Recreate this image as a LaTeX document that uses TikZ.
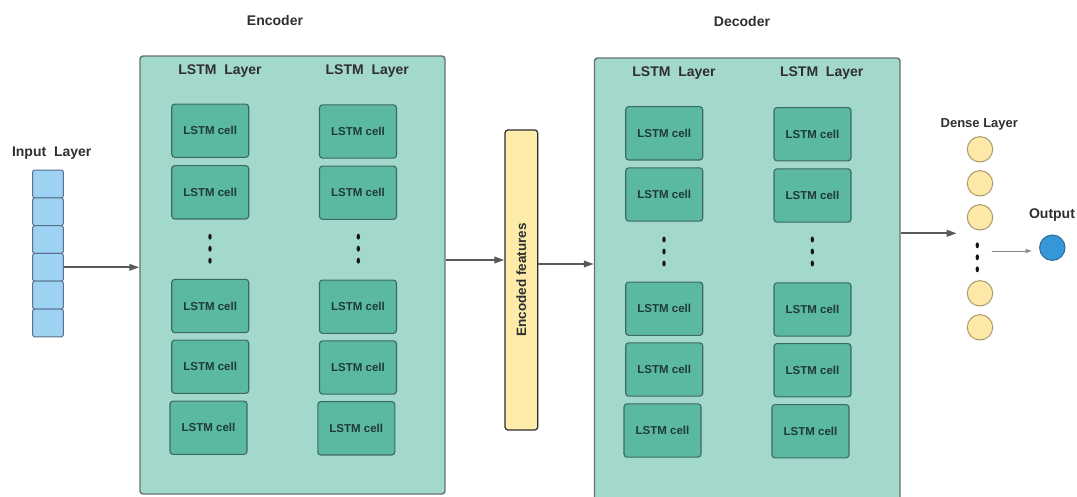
\documentclass[tikz,border=0pt]{standalone}
\usepackage{fontspec}
\setmainfont{Liberation Sans}
\usetikzlibrary{arrows.meta}

\definecolor{panelfill}{HTML}{A3D8CD}
\definecolor{panelline}{HTML}{62746F}
\definecolor{cellfill}{HTML}{5BB8A2}
\definecolor{cellline}{HTML}{3D6A5F}
\definecolor{celltext}{HTML}{1F3B35}
\definecolor{titletext}{HTML}{2F2F2F}
\definecolor{featfill}{HTML}{FDEBA9}
\definecolor{featline}{HTML}{2B2B2B}
\definecolor{inputfill}{HTML}{9ED2F2}
\definecolor{inputline}{HTML}{58708A}
\definecolor{densefill}{HTML}{FDE8A7}
\definecolor{denseline}{HTML}{A89A6C}
\definecolor{outfill}{HTML}{3597D8}
\definecolor{outline}{HTML}{2C6A96}
\definecolor{arrowgray}{HTML}{595959}
\definecolor{thingray}{HTML}{8A8A8A}
\definecolor{dotcol}{HTML}{151515}

\begin{document}
\begin{tikzpicture}[x=1pt,y=-1pt,
  panel/.style={draw=panelline, fill=panelfill, line width=1.4pt,
    rounded corners=3pt, inner sep=0pt},
  cell/.style={draw=cellline, fill=cellfill, line width=1.1pt,
    rounded corners=3pt, minimum width=77pt, minimum height=53.3pt,
    inner sep=0pt, text=celltext,
    font=\fontsize{11.5}{13}\selectfont\bfseries},
  ttl/.style={text=titletext, inner sep=0pt,
    font=\fontsize{14}{16}\selectfont\bfseries},
  inbox/.style={draw=inputline, fill=inputfill, line width=1pt,
    rounded corners=2pt, minimum width=30.6pt, minimum height=27.8pt,
    inner sep=0pt},
  neuron/.style={circle, draw=denseline, fill=densefill, line width=1pt,
    minimum size=25.4pt, inner sep=0pt},
  outneuron/.style={circle, draw=outline, fill=outfill, line width=1pt,
    minimum size=25.4pt, inner sep=0pt},
  featbox/.style={draw=featline, fill=featfill, line width=1.2pt,
    rounded corners=3pt, minimum width=32.7pt, minimum height=300pt,
    inner sep=0pt},
  arr/.style={draw=arrowgray, line width=2pt,
    -{Triangle[length=10pt,width=6.5pt]}},
  thinarr/.style={draw=thingray, line width=0.9pt,
    -{Triangle[length=6pt,width=4pt]}},
]
\useasboundingbox (0,0) rectangle (1077,496);
\clip (0,0) rectangle (1077,496);

% ---------- encoder and decoder panels ----------
\node[panel, minimum width=305pt, minimum height=438pt] (enc) at (292.5,275) {};
\node[panel, minimum width=305.5pt, minimum height=452pt] (dec) at (747.25,284) {};

\node[ttl] (encT) at (275,20) {Encoder};
\node[ttl] (decT) at (742,21.5) {Decoder};

\node[ttl] (encL1) at (220,71) {LSTM\ \ Layer};
\node[ttl] (encL2) at (367.3,71) {LSTM\ \ Layer};
\node[ttl] (decL1) at (674,73.3) {LSTM\ \ Layer};
\node[ttl] (decL2) at (821.7,73.3) {LSTM\ \ Layer};

% ---------- encoder cells ----------
\node[cell] (ea1) at (210.2,130.7) {LSTM cell};
\node[cell] (ea2) at (210.2,192.3) {LSTM cell};
\node[cell] (ea3) at (210.2,306.0) {LSTM cell};
\node[cell] (ea4) at (210.2,366.7) {LSTM cell};
\node[cell] (ea5) at (208.5,427.7) {LSTM cell};

\node[cell] (eb1) at (358.0,131.5) {LSTM cell};
\node[cell] (eb2) at (358.0,192.7) {LSTM cell};
\node[cell] (eb3) at (358.0,306.7) {LSTM cell};
\node[cell] (eb4) at (358.0,367.5) {LSTM cell};
\node[cell] (eb5) at (356.3,428.3) {LSTM cell};

% ---------- decoder cells ----------
\node[cell] (da1) at (664.2,133.3) {LSTM cell};
\node[cell] (da2) at (664.2,194.5) {LSTM cell};
\node[cell] (da3) at (664.2,308.7) {LSTM cell};
\node[cell] (da4) at (664.2,369.5) {LSTM cell};
\node[cell] (da5) at (662.5,430.5) {LSTM cell};

\node[cell] (db1) at (812.5,134.2) {LSTM cell};
\node[cell] (db2) at (812.5,195.5) {LSTM cell};
\node[cell] (db3) at (812.5,309.5) {LSTM cell};
\node[cell] (db4) at (812.5,370.2) {LSTM cell};
\node[cell] (db5) at (810.5,431.2) {LSTM cell};

% ---------- vertical ellipses between cells ----------
\foreach \cx/\cy in {210/236.7, 358.3/236.7, 664/239.5, 812.3/239.5, 977.3/245.3}{
  \foreach \k in {0,1,2}{
    \fill[dotcol] (\cx,\cy+12*\k) ellipse (1.7pt and 3pt);
  }
}

% ---------- input layer ----------
\node[ttl] (inT) at (51.7,152.7) {Input\ \ Layer};
\foreach \i in {1,...,6}{
  \node[inbox] (in\i) at (48,170+13.9+27.8*\i-27.8) {};
}

% ---------- encoded features ----------
\node[featbox] (feat) at (521.35,280) {};
\node[rotate=90, text=titletext, inner sep=0pt,
      font=\fontsize{13.5}{15}\selectfont\bfseries] (featT) at (feat.center)
      {Encoded features};

% ---------- dense layer and output ----------
\node[ttl, font=\fontsize{13}{15}\selectfont\bfseries] (denT) at (979.3,124) {Dense Layer};
\node[neuron] (n1) at (980,149.3) {};
\node[neuron] (n2) at (980,183.3) {};
\node[neuron] (n3) at (980,217.3) {};
\node[neuron] (n4) at (980,293.3) {};
\node[neuron] (n5) at (980,327.3) {};

\node[ttl] (outT) at (1052,215) {Output};
\node[outneuron] (out) at (1052.3,247.7) {};

% ---------- connectors ----------
\draw[arr] (in4.east) -- (enc.west |- in4.east);
\draw[arr] (enc.east |- 0,260) -- (feat.west |- 0,260);
\draw[arr] (feat.east |- 0,264) -- (dec.west |- 0,264);
\coordinate (denIn) at (956.7,233.3);
\draw[arr] (dec.east |- denIn) -- (denIn);
\coordinate (outFrom) at (991.7,251);
\coordinate (outTo) at (1031.7,251);
\draw[thinarr] (outFrom) -- (outTo);
\end{tikzpicture}
\end{document}
